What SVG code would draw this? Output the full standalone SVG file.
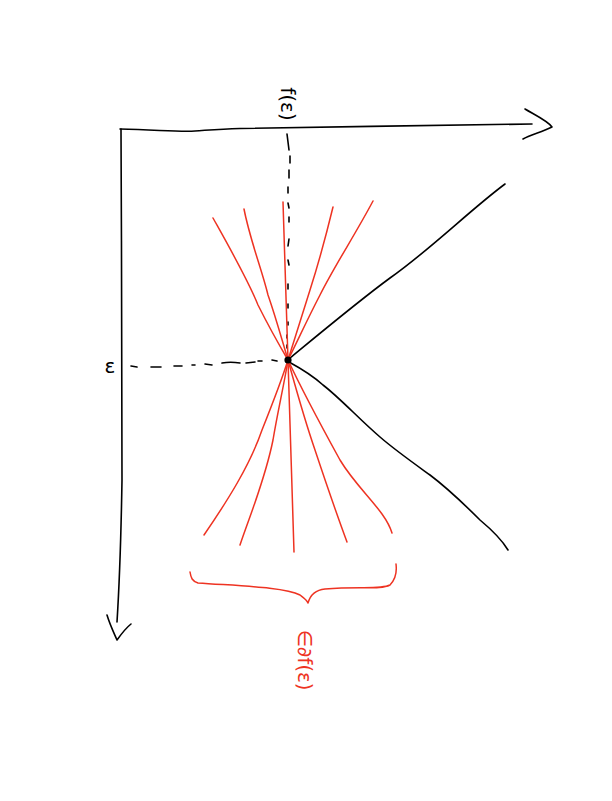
<svg xmlns="http://www.w3.org/2000/svg" width="612" height="801" viewBox="0 0 612 801">
<style>
.ink{fill:none;stroke:#000;stroke-width:1.6;stroke-linecap:round;stroke-linejoin:round}
.red{fill:none;stroke:#ee3322;stroke-width:1.5;stroke-linecap:round;stroke-linejoin:round}
.dash{fill:none;stroke:#000;stroke-width:1.6;stroke-linecap:round}
.lbl{font-family:"DejaVu Sans",sans-serif;font-size:20px}
</style>
<rect width="612" height="801" fill="#fff"/>
<g id="axes">
<path class="ink" d="M120,129 C160,130 180,132 195,131 C210,130 220,129 240,128.5 C330,127 450,125 532,124"/>
<path class="ink" d="M525,109 C535,115 548,121 552,127 C542,132 530,135 523,139"/>
<path class="ink" d="M121,129 C122,250 121,400 122,480 C121,540 119,590 117,622"/>
<path class="ink" d="M107,615 C110,625 114,633 117,640 C122,633 126,628 131,624"/>
</g>
<g id="guides">
<path class="dash" d="M287,134 L289,150 M290,156 L290,163 M289,170 L289,178 M288,187 L288,193 M288,203 L289,208 M289,217 L289,222 M289,239 L288,246 M288,260 L289,265 M288,284 L288,289 M288,304 L288,308 M288,322 L288,325 M287,335 L287,338 M287,345 L287,348"/>
<path class="dash" d="M131,366 L137,367 M151,367 L161,367 M174,366 L182,366 M192,365 L195,365 M205,364 L212,365 M222,363 C228,362 233,362 240,363 M246,363 L255,362 M258,361 L262,361 M272,360 L277,361"/>
</g>
<g id="function">
<path class="ink" d="M290,358 C330,325 360,300 390,278 C430,250 470,210 505,184"/>
<path class="ink" d="M289,362 C300,368 312,375 323,385 C340,398 360,420 380,437 C395,450 412,462 430,475 C450,490 470,510 480,520 C492,530 502,540 508,550"/>
</g>
<g id="subgradients">
<path class="red" d="M213,218 C232,252 248,280 258,305 C268,325 278,343 288,360"/>
<path class="red" d="M244,209 C250,240 262,270 268,295 C276,318 282,340 288,360"/>
<path class="red" d="M283,202 C285,250 286,310 288,360"/>
<path class="red" d="M333,207 C325,240 318,265 310,290 C302,315 295,338 288,360"/>
<path class="red" d="M373,201 C355,235 335,265 320,295 C308,318 298,340 288,360"/>
<path class="red" d="M288,360 C280,385 272,405 262,430 C250,465 228,500 204,535"/>
<path class="red" d="M288,360 C284,385 278,410 273,440 C265,480 250,515 240,545"/>
<path class="red" d="M288,360 C290,420 292,490 294,552"/>
<path class="red" d="M288,360 C295,385 303,415 315,450 C325,480 337,515 347,542"/>
<path class="red" d="M288,360 C302,390 318,420 340,460 C358,490 385,510 392,533"/>
<path class="red" d="M190,572 C191,578 192,581 198,583 C240,586 285,587 300,595 C304,598 307,600 308,603 C310,596 314,590 325,589 C360,586 380,590 390,585 C395,580 397,572 396,564"/>
<circle cx="288" cy="360" r="3.6" fill="#000"/>
</g>
<g id="labels">
<text class="lbl" transform="translate(288,104) rotate(90)" text-anchor="middle" dominant-baseline="central">f(ε)</text>
<text class="lbl" x="110" y="366" text-anchor="middle" dominant-baseline="central" font-size="18">ε</text>
<text class="lbl" transform="translate(305,660) rotate(90)" text-anchor="middle" dominant-baseline="central" fill="#ee3322" font-size="24">∈∂f(ε)</text>
</g>
</svg>
